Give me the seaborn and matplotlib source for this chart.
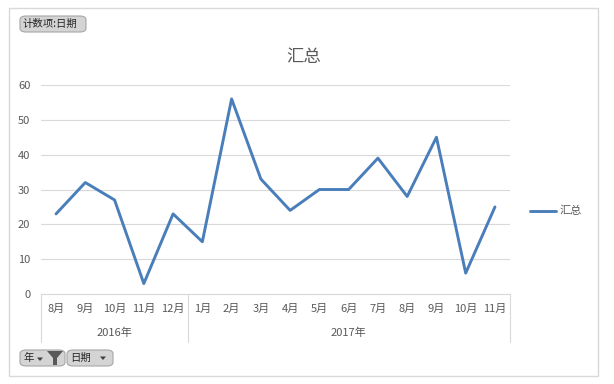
import matplotlib
matplotlib.use("Agg")
import matplotlib.pyplot as plt
import seaborn as sns
import pandas as pd
import numpy as np
from matplotlib.patches import FancyBboxPatch, Rectangle, Polygon
from matplotlib.lines import Line2D

months = ["8月", "9月", "10月", "11月", "12月", "1月", "2月", "3月", "4月", "5月",
          "6月", "7月", "8月", "9月", "10月", "11月"]
years = ["2016年", "2017年"]
year_counts = [5, 11]
values = [23, 32, 27, 3, 23, 15, 56, 33, 24, 30, 30, 39, 28, 45, 6, 25]
yticks = [0, 10, 20, 30, 40, 50, 60]

sns.set_theme(style="white")
plt.rcParams['font.family'] = ['Noto Sans CJK SC', 'DejaVu Sans']

W, H = 614, 384
fig = plt.figure(figsize=(W / 100, H / 100), dpi=100)

def fx(px):
    return px / W

def fy(py):
    return 1 - py / H

ax_l, ax_r, ax_t, ax_b = 41.4, 509.6, 85, 294
ax = fig.add_axes([fx(ax_l), fy(ax_b), fx(ax_r - ax_l), (ax_b - ax_t) / H])

df = pd.DataFrame({"x": np.arange(len(values)), "汇总": values})
line_color = "#4a7ebb"
sns.lineplot(data=df, x="x", y="汇总", ax=ax, color=line_color, linewidth=2.1,
             legend=False)

ax.set_xlim(-0.5, len(values) - 0.5)
ax.set_ylim(0, 60)
ax.set_yticks(yticks)
ax.set_yticklabels([str(v) for v in yticks], fontsize=8, color="#595959")
ax.set_xticks(np.arange(len(values)))
ax.set_xticklabels(months, fontsize=8, color="#595959")
ax.tick_params(axis="x", length=0, pad=7)
ax.tick_params(axis="y", length=0, pad=8)
ax.set_xlabel("")
ax.set_ylabel("")
ax.grid(axis="y", color="#d9d9d9", linewidth=0.8)
ax.set_axisbelow(True)
for s in ["top", "right", "left"]:
    ax.spines[s].set_visible(False)
ax.spines["bottom"].set_color("#d9d9d9")
ax.spines["bottom"].set_linewidth(0.8)

# category group separators and year labels
box_bottom_px = 342
sep_color = "#d9d9d9"
bounds = [-0.5]
for c in year_counts:
    bounds.append(bounds[-1] + c)
trans = ax.get_xaxis_transform()
depth = -(box_bottom_px - ax_b) / (ax_b - ax_t)
for b in bounds:
    ax.add_line(Line2D([b, b], [0, depth], transform=trans, color=sep_color,
                       linewidth=0.8, clip_on=False))
for i, yl in enumerate(years):
    cx = (bounds[i] + bounds[i + 1]) / 2
    ax.text(cx, -(333 - ax_b) / (ax_b - ax_t), yl, transform=trans, ha="center",
            va="center", fontsize=8, color="#595959")

# title
fig.text(fx(304), fy(57), "汇总", ha="center", va="center", fontsize=12.5,
         color="#595959")

# legend
fig.add_artist(Line2D([fx(530), fx(556)], [fy(211), fy(211)], color=line_color,
                      linewidth=2.1))
fig.text(fx(559), fy(211), "汇总", ha="left", va="center", fontsize=8,
         color="#595959")

# outer border
fig.add_artist(Rectangle((fx(9), fy(376)), fx(598 - 9), (376 - 8) / H,
                         fill=False, edgecolor="#d9d9d9", linewidth=1.0))

# pivot buttons
def button(x0, y0, x1, y1, label, tx):
    fig.add_artist(FancyBboxPatch((fx(x0), fy(y1)), fx(x1 - x0), (y1 - y0) / H,
                                  boxstyle="round,pad=0,rounding_size=0.01",
                                  facecolor="#d4d4d4", edgecolor="#a6a6a6",
                                  linewidth=0.8))
    fig.text(fx(tx), fy((y0 + y1) / 2), label, ha="left", va="center",
             fontsize=7.5, color="#262626")

button(20, 16, 86, 32, "计数项:日期", 23)
button(20, 350, 65, 366, "年", 23)
button(67, 350, 113, 366, "日期", 70)

# dropdown arrows
def arrow(cx, cy):
    fig.add_artist(Polygon([[fx(cx - 3), fy(cy - 1.5)], [fx(cx + 3), fy(cy - 1.5)],
                            [fx(cx), fy(cy + 2)]], closed=True,
                           facecolor="#404040", edgecolor="none"))

arrow(40, 359)
arrow(103, 358)
# filter icon
fig.add_artist(Polygon([[fx(47), fy(351)], [fx(63), fy(351)], [fx(57), fy(358)],
                        [fx(57), fy(365)], [fx(53), fy(365)], [fx(53), fy(358)]],
                       closed=True, facecolor="#595959", edgecolor="none"))

fig.savefig("out.png", dpi=100)
